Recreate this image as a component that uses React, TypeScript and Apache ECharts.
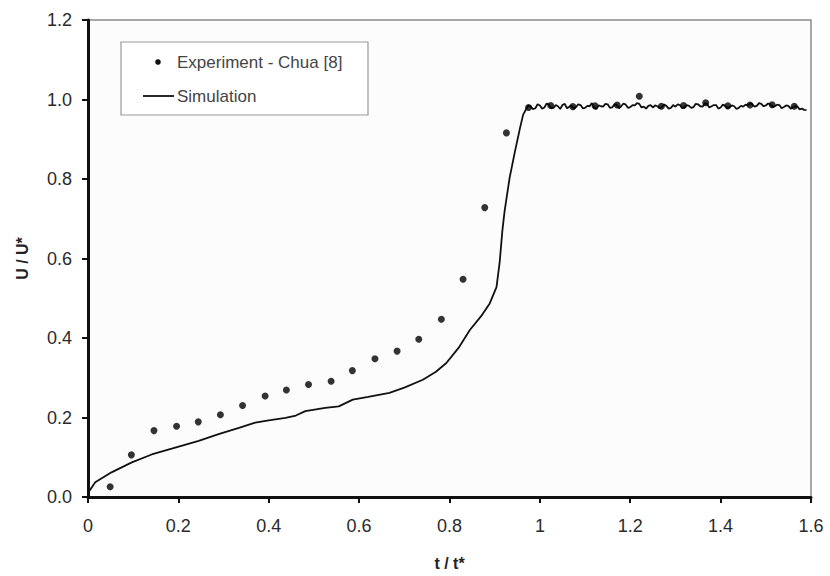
import React, { useEffect, useRef } from "react";
import * as echarts from "echarts";

// Experiment - Chua [8]
const expT = [0.049, 0.096, 0.146, 0.196, 0.244, 0.293, 0.342, 0.392, 0.439, 0.488, 0.538, 0.585, 0.635, 0.684, 0.732, 0.782, 0.830, 0.878, 0.926, 0.975, 1.024, 1.073, 1.122, 1.171, 1.220, 1.269, 1.318, 1.367, 1.416, 1.465, 1.514, 1.563];
const expU = [0.026, 0.106, 0.167, 0.178, 0.189, 0.207, 0.230, 0.254, 0.269, 0.283, 0.291, 0.318, 0.348, 0.367, 0.397, 0.447, 0.548, 0.728, 0.916, 0.980, 0.985, 0.982, 0.984, 0.986, 1.008, 0.983, 0.985, 0.992, 0.984, 0.986, 0.987, 0.983];

// Simulation
const simT = [0, 0.016, 0.052, 0.097, 0.141, 0.193, 0.245, 0.289, 0.334, 0.37, 0.4, 0.437, 0.46, 0.481, 0.525, 0.555, 0.586, 0.62, 0.667, 0.7, 0.741, 0.77, 0.793, 0.82, 0.845, 0.87, 0.889, 0.904, 0.911, 0.917, 0.922, 0.933, 0.945, 0.956, 0.963, 0.974,
  0.98, 0.985, 0.99, 0.995, 1.00, 1.005, 1.01, 1.015, 1.02, 1.025, 1.03, 1.035, 1.04, 1.045, 1.05, 1.055, 1.06, 1.065, 1.07, 1.075, 1.08, 1.085, 1.09, 1.095, 1.10, 1.105, 1.11, 1.115, 1.12, 1.125, 1.13, 1.135, 1.14, 1.145, 1.15, 1.155, 1.16, 1.165, 1.17, 1.175, 1.18, 1.185, 1.19, 1.195, 1.20, 1.205, 1.21, 1.215, 1.22, 1.225, 1.23, 1.235, 1.24, 1.245, 1.25, 1.255, 1.26, 1.265, 1.27, 1.275, 1.28, 1.285, 1.29, 1.295, 1.30, 1.305, 1.31, 1.315, 1.32, 1.325, 1.33, 1.335, 1.34, 1.345, 1.35, 1.355, 1.36, 1.365, 1.37, 1.375, 1.38, 1.385, 1.39, 1.395, 1.40, 1.405, 1.41, 1.415, 1.42, 1.425, 1.43, 1.435, 1.44, 1.445, 1.45, 1.455, 1.46, 1.465, 1.47, 1.475, 1.48, 1.485, 1.49, 1.495, 1.50, 1.505, 1.51, 1.515, 1.52, 1.525, 1.53, 1.535, 1.54, 1.545, 1.55, 1.555, 1.56, 1.565, 1.57, 1.575, 1.58, 1.585, 1.59];
const simU = [0.01, 0.037, 0.062, 0.087, 0.107, 0.124, 0.141, 0.158, 0.174, 0.187, 0.193, 0.199, 0.205, 0.216, 0.224, 0.228, 0.245, 0.252, 0.262, 0.275, 0.295, 0.315, 0.337, 0.375, 0.42, 0.455, 0.487, 0.528, 0.59, 0.67, 0.72, 0.803, 0.87, 0.928, 0.962, 0.985,
  0.982, 0.976, 0.978, 0.988, 0.985, 0.977, 0.980, 0.990, 0.987, 0.978, 0.979, 0.986, 0.983, 0.976, 0.986, 0.989, 0.978, 0.982, 0.984, 0.977, 0.981, 0.988, 0.986, 0.978, 0.979, 0.984, 0.983, 0.991, 0.980, 0.976, 0.985, 0.983, 0.982, 0.989, 0.988, 0.979, 0.980, 0.988, 0.986, 0.978, 0.983, 0.990, 0.987, 0.979, 0.981, 0.986, 0.985, 0.991, 0.989, 0.980, 0.982, 0.977, 0.984, 0.986, 0.980, 0.985, 0.983, 0.978, 0.981, 0.987, 0.984, 0.977, 0.979, 0.986, 0.982, 0.988, 0.986, 0.978, 0.980, 0.986, 0.984, 0.979, 0.981, 0.989, 0.988, 0.983, 0.982, 0.990, 0.989, 0.980, 0.983, 0.986, 0.986, 0.977, 0.980, 0.987, 0.984, 0.978, 0.981, 0.985, 0.983, 0.976, 0.979, 0.984, 0.982, 0.987, 0.985, 0.990, 0.988, 0.982, 0.984, 0.991, 0.989, 0.983, 0.985, 0.990, 0.988, 0.981, 0.983, 0.987, 0.986, 0.978, 0.981, 0.985, 0.984, 0.977, 0.980, 0.983, 0.982, 0.975, 0.977, 0.974, 0.973];

const xTitle = "t / t*";
const yTitle = "U / U*";
const legendNames = ["Experiment - Chua [8]", "Simulation"];

export default function App() {
  const ref = useRef<HTMLDivElement>(null);
  useEffect(() => {
    if (!ref.current) return;
    const chart = echarts.init(ref.current, undefined, { renderer: "svg" });
    const font = "Arial, 'Liberation Sans', sans-serif";
    chart.setOption({
      animation: false,
      backgroundColor: "#ffffff",
      textStyle: { fontFamily: font },
      grid: {
        left: 88, right: 19, top: 20, bottom: 78,
        show: true, backgroundColor: "#fcfcfc", borderColor: "#8a8a8a", borderWidth: 1.5,
      },
      xAxis: {
        type: "value", min: 0, max: 1.6, interval: 0.2,
        name: xTitle, nameLocation: "middle", nameGap: 58,
        nameTextStyle: { fontSize: 16, fontWeight: "bold", color: "#222", fontFamily: font },
        axisLine: { show: true, onZero: false, lineStyle: { color: "#111", width: 3 } },
        axisTick: { show: true, inside: false, length: 6, lineStyle: { color: "#111", width: 2 } },
        axisLabel: { fontSize: 18, color: "#2a2a2a", margin: 20, formatter: (v: number) => String(Number(v.toFixed(1))) },
        splitLine: { show: false },
      },
      yAxis: {
        type: "value", min: 0, max: 1.2, interval: 0.2,
        name: yTitle, nameLocation: "middle", nameGap: 58, nameRotate: 90,
        nameTextStyle: { fontSize: 16, fontWeight: "bold", color: "#222", fontFamily: font },
        axisLine: { show: true, onZero: false, lineStyle: { color: "#111", width: 3 } },
        axisTick: { show: true, inside: false, length: 6, lineStyle: { color: "#111", width: 2 } },
        axisLabel: { fontSize: 18, color: "#2a2a2a", margin: 16, formatter: (v: number) => v.toFixed(1) },
        splitLine: { show: false },
      },
      series: [
        {
          name: legendNames[1], type: "line", showSymbol: false, symbol: "none",
          data: simT.map((t, i) => [t, simU[i]]),
          lineStyle: { color: "#111", width: 1.8 }, z: 2,
        },
        {
          name: legendNames[0], type: "scatter", symbol: "circle", symbolSize: 7,
          data: expT.map((t, i) => [t, expU[i]]),
          itemStyle: { color: "#000" }, z: 3,
        },
      ],
      graphic: [
        { type: "rect", shape: { x: 121, y: 42, width: 247, height: 73 }, style: { fill: "#ffffff", stroke: "#999", lineWidth: 1.2 }, z: 10 },
        { type: "circle", shape: { cx: 158, cy: 62, r: 2.8 }, style: { fill: "#111" }, z: 11 },
        { type: "text", x: 177, y: 62, style: { text: legendNames[0], fontSize: 17, fill: "#444", verticalAlign: "middle", fontFamily: font }, z: 11 },
        { type: "line", shape: { x1: 143, y1: 96, x2: 174, y2: 96 }, style: { stroke: "#111", lineWidth: 1.8 }, z: 11 },
        { type: "text", x: 177, y: 96, style: { text: legendNames[1], fontSize: 17, fill: "#444", verticalAlign: "middle", fontFamily: font }, z: 11 },
      ],
    });
    return () => chart.dispose();
  }, []);
  return <div ref={ref} style={{ position: "fixed", left: 0, top: 0, width: 830, height: 576 }} />;
}
